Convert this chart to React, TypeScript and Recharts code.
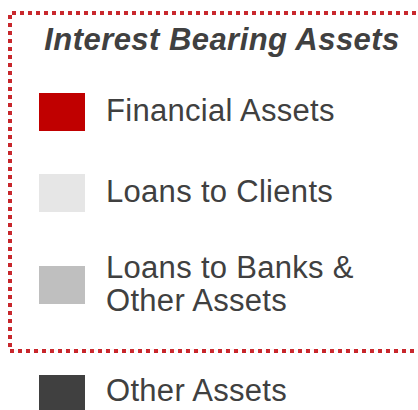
import React from "react";
import { BarChart, Bar, Legend } from "recharts";

// Series (legend entries) of the chart
const seriesKeys = ["financial", "clients", "banks", "other"];
const seriesNames = [
  "Financial Assets",
  "Loans to Clients",
  "Loans to Banks &\nOther Assets",
  "Other Assets",
];
const seriesColors = ["#C00000", "#E6E6E6", "#BFBFBF", "#404040"];
const groupTitle = "Interest Bearing Assets";
// Only the legend is visible in the reference; no category values shown.
const categories: string[] = [];
const data = categories.map((c) => ({ name: c }));

const W = 418;
const H = 410;
const TEXT = "#404040";
const FONT = "'Liberation Sans', Arial, sans-serif";

// layout (pixel tops of swatches, label baseline offsets)
const swatchTops = [93, 174, 266, 375];
const baselineOffsets = [9, 9, 9, 7];

const renderLegend = () => {
  return (
    <svg width={W} height={H} style={{ display: "block" }}>
      <rect
        x={10}
        y={13}
        width={430}
        height={338}
        fill="none"
        stroke="#C8282D"
        strokeWidth={4}
        strokeDasharray="4 4"
        strokeDashoffset={-2}
      />
      <text
        x={222}
        y={50}
        textAnchor="middle"
        style={{ fontFamily: FONT }}
        fontWeight="bold"
        fontStyle="italic"
        fontSize={31}
        letterSpacing={0.45}
        fill={TEXT}
      >
        {groupTitle}
      </text>
      {seriesKeys.map((k, i) => {
        const top = swatchTops[i];
        const lines = seriesNames[i].split("\n");
        const center = top + 19;
        const lh = 33;
        const firstBase = center + baselineOffsets[i] - ((lines.length - 1) * lh) / 2;
        return (
          <g key={k}>
            <rect x={39} y={top} width={46} height={38} fill={seriesColors[i]} />
            <text
              style={{ fontFamily: FONT }}
              fontSize={31}
              letterSpacing={0.3}
              fill={TEXT}
            >
              {lines.map((ln, j) => (
                <tspan key={j} x={106} y={firstBase + j * lh}>
                  {ln}
                </tspan>
              ))}
            </text>
          </g>
        );
      })}
    </svg>
  );
};

export default function App() {
  return (
    <div style={{ position: "absolute", left: 0, top: 0, width: W, height: H, background: "#fff" }}>
      <BarChart width={W} height={H} data={data} margin={{ top: 0, right: 0, bottom: 0, left: 0 }}>
        {seriesKeys.map((k, i) => (
          <Bar
            key={k}
            dataKey={k}
            name={seriesNames[i]}
            fill={seriesColors[i]}
            isAnimationActive={false}
          />
        ))}
        <Legend
          content={renderLegend}
          wrapperStyle={{ position: "absolute", left: 0, top: 0, width: W, height: H, margin: 0, padding: 0 }}
        />
      </BarChart>
    </div>
  );
}
